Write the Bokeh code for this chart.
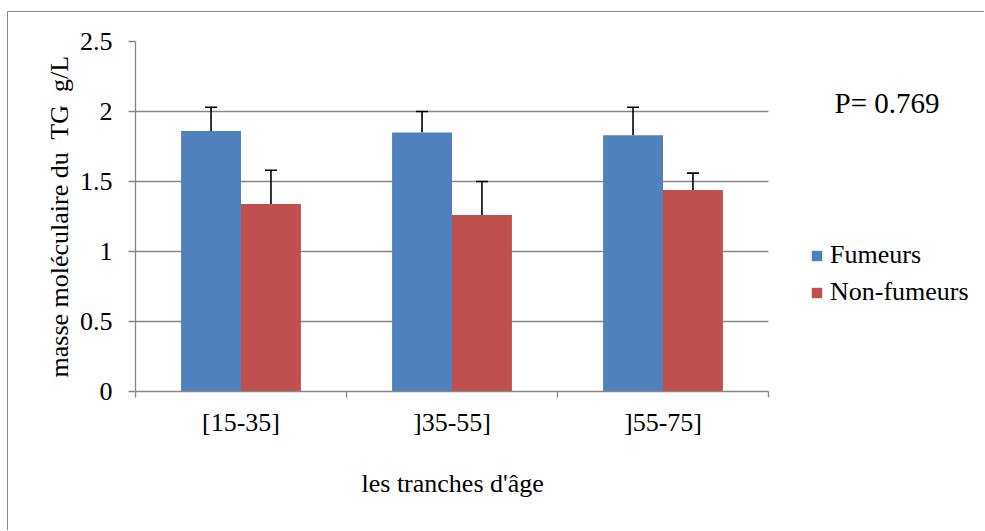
import numpy as np
from bokeh.plotting import figure
from bokeh.models import (ColumnDataSource, Range1d, FixedTicker, CustomJSTickFormatter,
                          Whisker, TeeHead, Legend, LegendItem, Label, Title)
from bokeh.embed import file_html
from bokeh.resources import INLINE

categories = ["[15-35]", "]35-55]", "]55-75]"]
fumeurs = [1.86, 1.85, 1.83]
fumeurs_err = [0.17, 0.15, 0.20]
non_fumeurs = [1.34, 1.26, 1.44]
non_fumeurs_err = [0.24, 0.24, 0.12]
y_ticks = [0, 0.5, 1, 1.5, 2, 2.5]

FONT = "Liberation Serif"
BLUE = "#4F81BD"
RED = "#C0504D"
GRAY = "#868686"

n = len(categories)
idx = np.arange(n) + 0.5
bw = 0.284
off = 0.142

src_f = ColumnDataSource(dict(x=idx - off, top=fumeurs,
                              up=np.array(fumeurs) + np.array(fumeurs_err)))
src_n = ColumnDataSource(dict(x=idx + off, top=non_fumeurs,
                              up=np.array(non_fumeurs) + np.array(non_fumeurs_err)))

# frame spans to the right edge so the legend / P text are inside it;
# axis and grid are bounded to the plot area [0, n]
x_end = n * 850 / 633
p = figure(width=977, height=519, output_backend="svg", toolbar_location=None,
           x_range=Range1d(0, x_end), y_range=Range1d(0, 2.5),
           min_border_left=127, min_border_right=0, min_border_top=29, min_border_bottom=140)
p.styles = {"margin-left": "7px", "margin-top": "11px",
            "border-left": f"1px solid {GRAY}", "border-top": f"1px solid {GRAY}"}
p.outline_line_color = None
p.background_fill_color = "white"
p.border_fill_color = "white"

r_f = p.vbar(x="x", top="top", width=bw, source=src_f, fill_color=BLUE, line_color=None)
r_n = p.vbar(x="x", top="top", width=bw, source=src_n, fill_color=RED, line_color=None)

for src in (src_f, src_n):
    w = Whisker(base="x", lower="top", upper="up", source=src,
                line_color="black", line_width=1.6, lower_head=None,
                upper_head=TeeHead(size=12, line_color="black", line_width=1.6))
    p.add_layout(w)

# x axis
xa = p.xaxis[0]
xa.bounds = (0, n)
xa.ticker = FixedTicker(ticks=list(idx), minor_ticks=list(range(n + 1)))
xa.formatter = CustomJSTickFormatter(args=dict(labels=categories),
                                     code="return labels[Math.floor(tick)];")
xa.major_tick_out = 0
xa.major_tick_in = 0
xa.minor_tick_out = 6
xa.minor_tick_in = 0
xa.minor_tick_line_color = GRAY
xa.minor_tick_line_width = 1.3
xa.axis_line_color = GRAY
xa.axis_line_width = 1.3
xa.major_label_text_font = FONT
xa.major_label_text_font_size = "26px"
xa.major_label_text_color = "black"
xa.major_label_standoff = 10

# x axis title, centred under the bounded axis
p.add_layout(Title(text="les tranches d'âge", align="left", offset=226,
                   text_font=FONT, text_font_size="26px", text_font_style="normal",
                   text_color="black", standoff=54), "below")

# y axis
ya = p.yaxis[0]
ya.ticker = FixedTicker(ticks=y_ticks, minor_ticks=[])
ya.formatter = CustomJSTickFormatter(code="return String(tick);")
ya.major_tick_out = 7
ya.major_tick_in = 0
ya.major_tick_line_color = GRAY
ya.major_tick_line_width = 1.3
ya.axis_line_color = GRAY
ya.axis_line_width = 1.3
ya.major_label_text_font = FONT
ya.major_label_text_font_size = "26px"
ya.major_label_text_color = "black"
ya.major_label_standoff = 16
ya.axis_label = "masse moléculaire du\u00a0 TG\u00a0 g/L"
ya.axis_label_text_font = FONT
ya.axis_label_text_font_size = "26px"
ya.axis_label_text_font_style = "normal"
ya.axis_label_text_color = "black"
ya.axis_label_standoff = 3

p.xgrid.grid_line_color = None
p.ygrid.grid_line_color = GRAY
p.ygrid.grid_line_width = 1.3
p.ygrid.ticker = FixedTicker(ticks=y_ticks)
p.ygrid.cross_bounds = (0, n)

legend = Legend(items=[LegendItem(label="Fumeurs", renderers=[r_f]),
                       LegendItem(label="Non-fumeurs", renderers=[r_n])],
                location=(675, 84), orientation="vertical",
                glyph_width=13, glyph_height=13, label_height=26, spacing=7,
                label_standoff=7, padding=0, margin=0,
                border_line_color=None, background_fill_alpha=0,
                label_text_font=FONT, label_text_font_size="26px", label_text_color="black")
p.add_layout(legend, "center")

p.add_layout(Label(x=699, y=289, x_units="screen", y_units="screen", text="P= 0.769",
                   text_font=FONT, text_font_size="29px", text_color="black",
                   text_baseline="middle"))

open("out.html", "w").write(file_html(p, INLINE))
